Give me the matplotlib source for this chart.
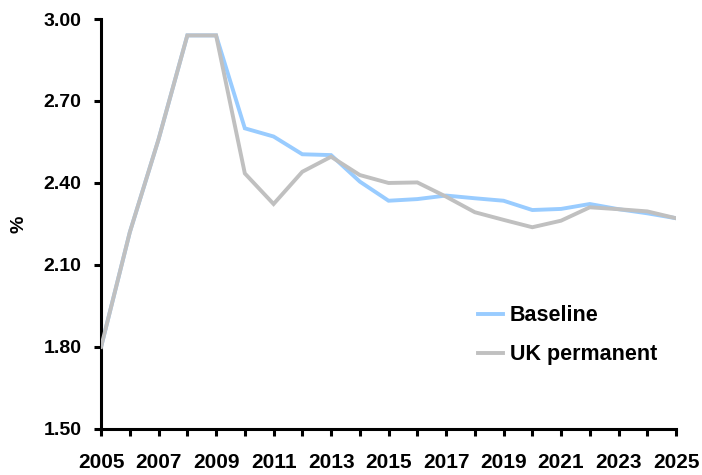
import matplotlib
matplotlib.use("Agg")
import matplotlib.pyplot as plt

years = list(range(2005, 2026))
baseline = [1.80, 2.22, 2.56, 2.94, 2.94, 2.60, 2.57, 2.505, 2.502, 2.405, 2.335,
            2.341, 2.354, 2.344, 2.335, 2.301, 2.305, 2.323, 2.304, 2.289, 2.271]
uk_perm = [1.80, 2.22, 2.56, 2.94, 2.94, 2.435, 2.323, 2.441, 2.496, 2.429, 2.400,
           2.402, 2.350, 2.293, 2.265, 2.238, 2.262, 2.311, 2.304, 2.296, 2.271]
yticks = [1.50, 1.80, 2.10, 2.40, 2.70, 3.00]
xtick_years = list(range(2005, 2026, 2))

plt.rcParams['font.family'] = ['Liberation Sans', 'DejaVu Sans']
fig = plt.figure(figsize=(7.02, 4.75), dpi=100)
ax = fig.add_axes([0.144, 0.097, 0.819, 0.863])

ax.plot(years, baseline, color='#99CCFF', lw=2.8, label='Baseline', zorder=2,
        solid_joinstyle='miter')
ax.plot(years, uk_perm, color='#C0C0C0', lw=2.8, label='UK permanent', zorder=3,
        solid_joinstyle='miter')

ax.set_xlim(2005, 2025)
ax.set_ylim(1.50, 3.00)
ax.set_yticks(yticks)
ax.set_yticklabels([f"{v:.2f}" for v in yticks])
ax.set_xticks(years)
ax.set_xticklabels([str(y) if y in xtick_years else '' for y in years])

for s in ['top', 'right']:
    ax.spines[s].set_visible(False)
for s in ['left', 'bottom']:
    ax.spines[s].set_linewidth(2.2)
    ax.spines[s].set_color('black')

ax.tick_params(axis='both', direction='out', length=5, width=2.2)
ax.tick_params(axis='x', pad=12, labelsize=15)
ax.tick_params(axis='y', pad=9, labelsize=14)
for lbl in ax.get_xticklabels() + ax.get_yticklabels():
    lbl.set_fontweight('bold')

ax.set_ylabel('%', fontsize=14, fontweight='bold')
ax.yaxis.set_label_coords(-0.128, 0.5)

leg = ax.legend(loc='upper left', bbox_to_anchor=(0.656, 0.302), frameon=False,
                prop={'weight': 'bold', 'size': 15.5}, handlelength=1.16,
                handletextpad=0.32, labelspacing=0.85, borderpad=0,
                borderaxespad=0)

fig.savefig('out.png', dpi=100)
